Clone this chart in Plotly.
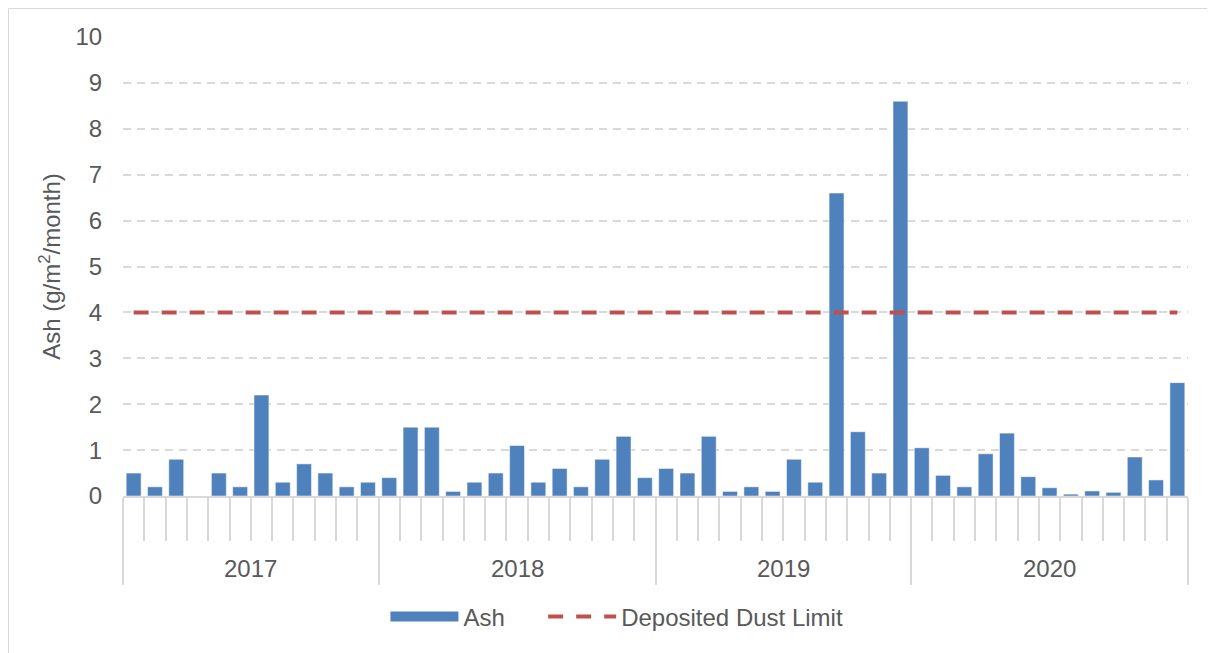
import numpy as np
import plotly.graph_objects as go

# ---------------- data ----------------
year_labels = ["2017", "2018", "2019", "2020"]
periods_per_year = [12, 13, 12, 13]

ash_2017 = [0.5, 0.2, 0.8, None, 0.5, 0.2, 2.2, 0.3, 0.7, 0.5, 0.2, 0.3]
ash_2018 = [0.4, 1.5, 1.5, 0.1, 0.3, 0.5, 1.1, 0.3, 0.6, 0.2, 0.8, 1.3, 0.4]
ash_2019 = [0.6, 0.5, 1.3, 0.1, 0.2, 0.1, 0.8, 0.3, 6.6, 1.4, 0.5, 8.6]
ash_2020 = [1.05, 0.45, 0.2, 0.92, 1.37, 0.42, 0.18, 0.04, 0.11, 0.08, 0.85, 0.35, 2.47]

deposited_dust_limit = 4

y_ticks = [0, 1, 2, 3, 4, 5, 6, 7, 8, 9, 10]

# ---------------- derived ----------------
ash = ash_2017 + ash_2018 + ash_2019 + ash_2020
n = len(ash)
x_idx = np.arange(n)
bounds = np.concatenate([[0], np.cumsum(periods_per_year)]) - 0.5
year_centers = [(bounds[i] + bounds[i + 1]) / 2 for i in range(len(year_labels))]

FONT = "Liberation Sans, Arial, sans-serif"
TXT = "#595959"
GRID = "#d9d9d9"
BLUE = "#4f81bd"
RED = "#c0504d"
FS = 24

fig = go.Figure()

fig.add_trace(go.Bar(
    x=x_idx, y=ash, width=0.7, name="Ash", showlegend=False,
    marker=dict(color=BLUE, line=dict(color="rgba(255,255,255,0.5)", width=1)),
))

# legend stand-in for bars (wide swatch like the original)
fig.add_trace(go.Scatter(
    x=[None], y=[None], mode="lines", name="Ash" + "\u00a0" * 5,
    line=dict(color=BLUE, width=13),
))

fig.add_trace(go.Scatter(
    x=x_idx, y=[deposited_dust_limit] * n, mode="lines",
    name="Deposited Dust Limit",
    line=dict(color=RED, width=4, dash="15px,13px"),
))

for lab, cx in zip(year_labels, year_centers):
    fig.add_annotation(
        x=cx, y=-0.159, xref="x", yref="paper", text=lab, showarrow=False,
        font=dict(family=FONT, size=FS, color=TXT), yanchor="middle",
    )

# chart-area border
fig.add_shape(type="rect", xref="paper", yref="paper",
              x0=-0.1075, x1=1.2, y0=-0.5, y1=1.0621,
              line=dict(color=GRID, width=1), layer="below")

fig.update_layout(
    width=1207, height=645,
    margin=dict(l=115, r=27, t=29, b=157),
    paper_bgcolor="white", plot_bgcolor="white",
    font=dict(family=FONT, size=FS, color=TXT),
    bargap=0.3,
    showlegend=True,
    legend=dict(orientation="h", x=0.4638, xanchor="center", y=-0.2636,
                yanchor="middle", font=dict(family=FONT, size=FS, color=TXT),
                itemwidth=68, bgcolor="rgba(0,0,0,0)"),
    xaxis=dict(
        range=[-0.5, n - 0.5], showgrid=False, zeroline=False,
        showline=True, linecolor=GRID, linewidth=1.5,
        tickmode="array", tickvals=list(bounds), showticklabels=False,
        ticks="outside", ticklen=87, tickcolor=GRID, tickwidth=1.5,
        minor=dict(tickmode="linear", tick0=-0.5, dtick=1, ticks="outside",
                   ticklen=43, tickcolor=GRID, tickwidth=1.5, showgrid=False),
    ),
    yaxis=dict(
        range=[0, 10], tickmode="array", tickvals=y_ticks,
        showgrid=True, gridcolor=GRID, gridwidth=1.5, griddash="8px,6px",
        zeroline=False, showline=False,
        ticks="outside", ticklen=15, tickcolor="rgba(0,0,0,0)",
        tickfont=dict(family=FONT, size=FS, color=TXT),
        title=dict(text="Ash (g/m<sup>2</sup>/month)", standoff=8,
                   font=dict(family=FONT, size=FS, color=TXT)),
    ),
)

fig.write_html("out.html")
